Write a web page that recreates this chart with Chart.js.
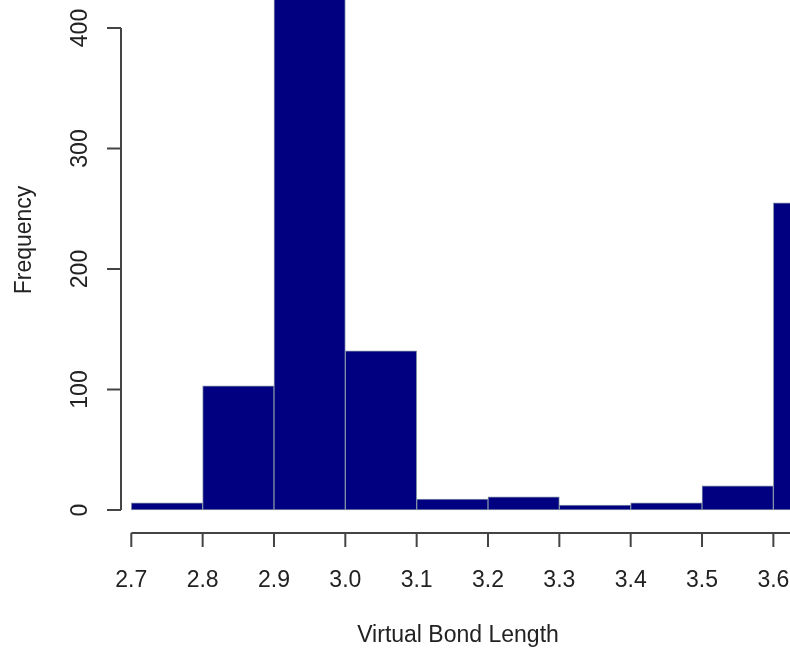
<!DOCTYPE html>
<html>
<head>
<meta charset="utf-8">
<script src="https://cdn.jsdelivr.net/npm/chart.js@4/dist/chart.umd.min.js"></script>
<style>
  html, body { margin: 0; padding: 0; background: #fff; }
  canvas { display: block; }
</style>
</head>
<body>
<canvas id="histChart" width="790" height="653"></canvas>
<script>
// histogram bins (left edges) and counts
const binStarts = [2.7, 2.8, 2.9, 3.0, 3.1, 3.2, 3.3, 3.4, 3.5, 3.6];
const binWidth = 0.1;
const counts = [6, 103, 470, 132, 9, 11, 4, 6, 20, 255];
const xTicks = [2.7, 2.8, 2.9, 3.0, 3.1, 3.2, 3.3, 3.4, 3.5, 3.6, 3.7];
const yTicks = [0, 100, 200, 300, 400];
const xTitle = 'Virtual Bond Length';
const yTitle = 'Frequency';

const FONT = '23px "Liberation Sans", Arial, sans-serif';
const INK = '#222';

// R style detached axes, drawn from the chart's own scales
const rAxes = {
    id: 'rAxes',
    afterDraw(chart) {
        const ctx = chart.ctx;
        const xs = chart.scales.x, ys = chart.scales.y;
        const area = chart.chartArea;
        ctx.save();
        ctx.strokeStyle = '#444';
        ctx.lineWidth = 2;
        ctx.fillStyle = INK;
        ctx.font = FONT;

        // y axis
        const ax = area.left;
        ctx.beginPath();
        ctx.moveTo(ax, ys.getPixelForValue(yTicks[0]));
        ctx.lineTo(ax, ys.getPixelForValue(yTicks[yTicks.length - 1]));
        yTicks.forEach(v => {
            const py = ys.getPixelForValue(v);
            ctx.moveTo(ax, py);
            ctx.lineTo(ax - 14, py);
        });
        ctx.stroke();
        ctx.textAlign = 'center';
        ctx.textBaseline = 'middle';
        yTicks.forEach(v => {
            ctx.save();
            ctx.translate(81, ys.getPixelForValue(v));
            ctx.rotate(-Math.PI / 2);
            ctx.fillText(String(v), 0, 0);
            ctx.restore();
        });

        // x axis
        const ay = area.bottom;
        ctx.beginPath();
        ctx.moveTo(xs.getPixelForValue(xTicks[0]), ay);
        ctx.lineTo(xs.getPixelForValue(xTicks[xTicks.length - 1]), ay);
        xTicks.forEach(v => {
            const px = xs.getPixelForValue(v);
            ctx.moveTo(px, ay);
            ctx.lineTo(px, ay + 14);
        });
        ctx.stroke();
        xTicks.forEach(v => {
            ctx.fillText(v.toFixed(1), xs.getPixelForValue(v), 581);
        });

        // titles
        ctx.fillText(xTitle, 458, 636);
        ctx.save();
        ctx.translate(25, 240);
        ctx.rotate(-Math.PI / 2);
        ctx.fillText(yTitle, 0, 0);
        ctx.restore();
        ctx.restore();
    }
};

const ctx = document.getElementById('histChart').getContext('2d');
window.histChart = new Chart(ctx, {
    type: 'bar',
    data: {
        datasets: [{
            data: binStarts.map((b, i) => ({ x: b + binWidth / 2, y: counts[i] })),
            backgroundColor: '#000080',
            borderColor: '#7f8fa6',
            borderWidth: 1,
            borderSkipped: false,
            barPercentage: 1,
            categoryPercentage: 1
        }]
    },
    options: {
        responsive: false,
        animation: false,
        layout: { padding: { left: 121, right: 0, top: 0, bottom: 120 } },
        plugins: { legend: { display: false }, tooltip: { enabled: false } },
        scales: {
            x: {
                type: 'linear',
                display: false,
                offset: false,
                min: 2.68556,
                max: 3.62332
            },
            y: {
                display: false,
                min: -19.09,
                max: 423.24
            }
        }
    },
    plugins: [rAxes]
});
</script>
</body>
</html>
